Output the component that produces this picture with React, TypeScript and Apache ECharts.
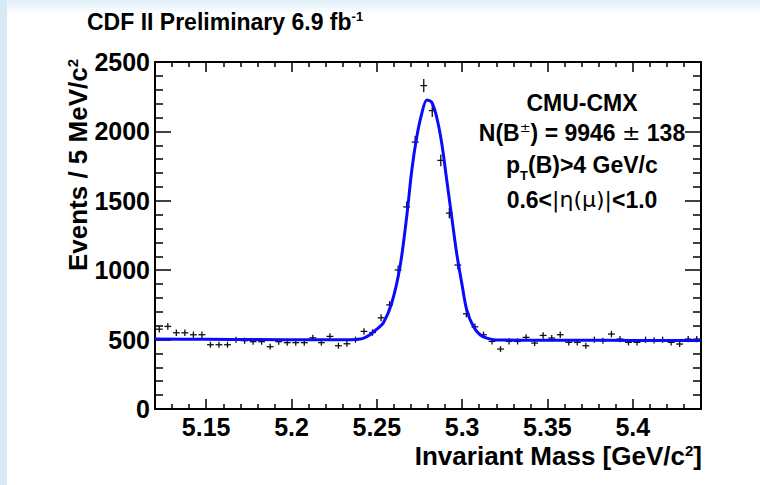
import React, { useEffect, useRef } from "react";
import * as echarts from "echarts";

// ---- data ----
const binCenters = [
  5.1225, 5.1275, 5.1325, 5.1375, 5.1425, 5.1475, 5.1525, 5.1575, 5.1625, 5.1675,
  5.1725, 5.1775, 5.1825, 5.1875, 5.1925, 5.1975, 5.2025, 5.2075, 5.2125, 5.2175,
  5.2225, 5.2275, 5.2325, 5.2375, 5.2425, 5.2475, 5.2525, 5.2575, 5.2625, 5.2675,
  5.2725, 5.2775, 5.2825, 5.2875, 5.2925, 5.2975, 5.3025, 5.3075, 5.3125, 5.3175,
  5.3225, 5.3275, 5.3325, 5.3375, 5.3425, 5.3475, 5.3525, 5.3575, 5.3625, 5.3675,
  5.3725, 5.3775, 5.3825, 5.3875, 5.3925, 5.3975, 5.4025, 5.4075, 5.4125, 5.4175,
  5.4225, 5.4275, 5.4325, 5.4375,
];
const counts = [
  575, 595, 549, 549, 535, 535, 463, 463, 463, 499,
  492, 485, 485, 449, 485, 478, 478, 478, 513, 478,
  523, 456, 470, 499, 559, 551, 657, 750, 1002, 1456,
  1923, 2330, 2150, 1791, 1411, 1037, 686, 592, 535, 487,
  432, 487, 487, 516, 475, 530, 511, 535, 480, 480,
  456, 499, 492, 540, 504, 480, 480, 499, 494, 499,
  480, 468, 504, 504,
];
const fitMass = [
  5.12, 5.15, 5.18, 5.21, 5.235, 5.2402, 5.243, 5.246, 5.25, 5.2538, 5.2587, 5.2636,
  5.2675, 5.2705, 5.2734, 5.2763, 5.2793, 5.2822, 5.2851, 5.2881, 5.291, 5.2939,
  5.2968, 5.2998, 5.3027, 5.3066, 5.3105, 5.3144, 5.32, 5.34, 5.37, 5.4, 5.44,
];
const fitValues = [
  505, 502, 500, 499, 499, 504, 515, 535, 575, 619, 762, 1025,
  1384, 1720, 1959, 2127, 2227, 2210, 2102, 1911, 1648, 1384,
  1122, 906, 714, 594, 535, 511, 498, 496, 495, 494, 493,
];
const xMajorTicks = [5.15, 5.2, 5.25, 5.3, 5.35, 5.4];
const xMinorTicks = [
  5.13, 5.14, 5.16, 5.17, 5.18, 5.19, 5.21, 5.22, 5.23, 5.24, 5.26, 5.27, 5.28, 5.29,
  5.31, 5.32, 5.33, 5.34, 5.36, 5.37, 5.38, 5.39, 5.41, 5.42, 5.43,
];
const yMajorTicks = [0, 500, 1000, 1500, 2000, 2500];
const yMinorTicks = [
  100, 200, 300, 400, 600, 700, 800, 900, 1100, 1200, 1300, 1400,
  1600, 1700, 1800, 1900, 2100, 2200, 2300, 2400,
];

const FONT = "'Liberation Sans', Arial, Helvetica, sans-serif";
const SYM = "'DejaVu Sans', 'Liberation Serif', serif";

function xAxisDef(pos: "top" | "bottom", ticks: number[], len: number, labels: boolean, line: boolean) {
  return {
    type: "value",
    min: 5.12,
    max: 5.44,
    position: pos,
    axisLine: { show: line, onZero: false, lineStyle: { color: "#000", width: 2 } },
    axisTick: { show: true, inside: true, length: len, customValues: ticks, lineStyle: { color: "#000", width: 1.5 } },
    axisLabel: labels
      ? {
          show: true,
          customValues: ticks,
          margin: 5,
          color: "#000",
          fontFamily: FONT,
          fontWeight: "bold",
          fontSize: 25,
          lineHeight: 25,
          formatter: (v: number) => String(Number(v.toFixed(2))),
        }
      : { show: false },
    splitLine: { show: false },
  };
}
function yAxisDef(pos: "left" | "right", ticks: number[], len: number, labels: boolean, line: boolean) {
  return {
    type: "value",
    min: 0,
    max: 2500,
    position: pos,
    axisLine: { show: line, onZero: false, lineStyle: { color: "#000", width: 2 } },
    axisTick: { show: true, inside: true, length: len, customValues: ticks, lineStyle: { color: "#000", width: 1.5 } },
    axisLabel: labels
      ? {
          show: true,
          customValues: ticks,
          margin: 5,
          color: "#000",
          fontFamily: FONT,
          fontWeight: "bold",
          fontSize: 25,
          formatter: (v: number) => String(v),
        }
      : { show: false },
    splitLine: { show: false },
  };
}

const rich = {
  b: { fontFamily: FONT, fontWeight: "bold", fontSize: 23, lineHeight: 26, verticalAlign: "top", fill: "#000" },
  t: { fontFamily: FONT, fontWeight: "bold", fontSize: 26, lineHeight: 27, verticalAlign: "top", fill: "#000" },
  sup: { fontFamily: FONT, fontWeight: "bold", fontSize: 13, lineHeight: 13, verticalAlign: "top", fill: "#000" },
  tsup: { fontFamily: FONT, fontWeight: "bold", fontSize: 15, lineHeight: 15, verticalAlign: "top", fill: "#000" },
  sub: { fontFamily: FONT, fontWeight: "bold", fontSize: 13, lineHeight: 13, fill: "#000" },
  g: { fontFamily: SYM, fontWeight: "normal", fontSize: 22, lineHeight: 26, verticalAlign: "top", fill: "#000" },
  gsup: { fontFamily: SYM, fontWeight: "normal", fontSize: 13, lineHeight: 13, verticalAlign: "top", fill: "#000" },
};

function label(text: string, x: number, y: number, align: string = "center", rotation = 0) {
  return {
    type: "text",
    x,
    y,
    rotation,
    z: 10,
    style: { text, rich, align, verticalAlign: "middle" },
  };
}

export default function App() {
  const ref = useRef<HTMLDivElement>(null);
  useEffect(() => {
    const chart = echarts.init(ref.current!, null, { renderer: "svg" });
    const option = {
      animation: false,
      backgroundColor: "#ffffff",
      grid: { left: 155, right: 59, top: 62, bottom: 76, containLabel: false },
      xAxis: [
        xAxisDef("bottom", xMajorTicks, 10, true, true),
        xAxisDef("bottom", xMinorTicks, 5, false, false),
        xAxisDef("top", xMajorTicks, 10, false, true),
        xAxisDef("top", xMinorTicks, 5, false, false),
      ],
      yAxis: [
        yAxisDef("left", yMajorTicks, 16, true, true),
        yAxisDef("left", yMinorTicks, 8, false, false),
        yAxisDef("right", yMajorTicks, 16, false, true),
        yAxisDef("right", yMinorTicks, 8, false, false),
      ],
      graphic: [
        {
          type: "rect",
          z: -10,
          shape: { x: 0, y: 0, width: 760, height: 14 },
          style: {
            fill: {
              type: "linear", x: 0, y: 0, x2: 0, y2: 1,
              colorStops: [
                { offset: 0, color: "#dfeef7" },
                { offset: 1, color: "#ffffff" },
              ],
            },
          },
        },
        { type: "rect", z: -9, shape: { x: 0, y: 0, width: 7, height: 485 }, style: { fill: "#d5eaf6" } },
        label("{b|CDF II Preliminary 6.9 fb}{sup|-1}", 87, 23, "left"),
        label("{t|Events / 5 MeV/c}{tsup|2}", 78, 59, "right", Math.PI / 2),
        label("{t|Invariant Mass [GeV/c}{tsup|2}{t|]}", 702, 456, "right"),
        label("{b|CMU-CMX}", 582, 104),
        label("{b|N(B}{gsup|±}{b|) = 9946 }{g|±}{b| 138}", 582, 134),
        label("{b|p}", 506, 166, "left"),
        label("{sub|T}", 520, 175, "left"),
        label("{b|(B)>4 GeV/c}", 528, 166, "left"),
        label("{b|0.6<}{g||η(μ)|}{b|<1.0}", 582, 201),
      ],
      series: [
        {
          type: "custom",
          xAxisIndex: 0,
          yAxisIndex: 0,
          z: 2,
          data: binCenters.map((m, i) => [m, counts[i]]),
          renderItem: (_params: any, api: any) => {
            const m = api.value(0);
            const n = api.value(1);
            const err = Math.sqrt(n);
            const l = api.coord([m - 0.002, n]);
            const r = api.coord([m + 0.002, n]);
            const t = api.coord([m, n + err]);
            const b = api.coord([m, n - err]);
            const st = { stroke: "#111", lineWidth: 1.3 };
            return {
              type: "group",
              children: [
                { type: "line", shape: { x1: l[0], y1: l[1], x2: r[0], y2: r[1] }, style: st },
                { type: "line", shape: { x1: t[0], y1: t[1], x2: b[0], y2: b[1] }, style: st },
              ],
            };
          },
        },
        {
          type: "line",
          xAxisIndex: 0,
          yAxisIndex: 0,
          z: 3,
          data: fitMass.map((m, i) => [m, fitValues[i]]),
          smooth: 0.3,
          showSymbol: false,
          symbol: "none",
          lineStyle: { color: "#0a0aff", width: 3 },
        },
      ],
    };
    chart.setOption(option as any);
    return () => chart.dispose();
  }, []);
  return (
    <div
      ref={ref}
      style={{ position: "absolute", left: 0, top: 0, width: 760, height: 485, background: "#fff" }}
    />
  );
}
